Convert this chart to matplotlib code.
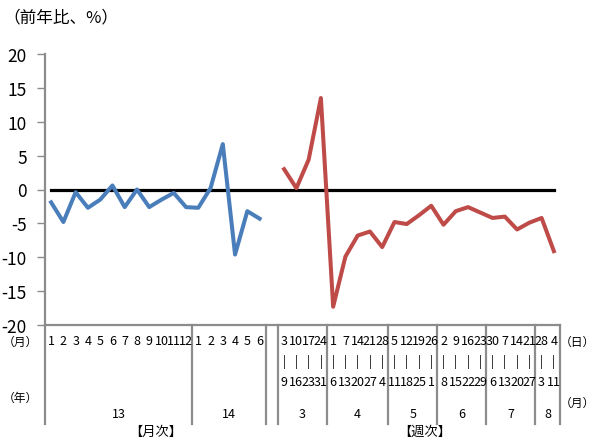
import matplotlib
matplotlib.use("Agg")
import matplotlib.pyplot as plt

plt.rcParams["font.family"] = ["Noto Sans CJK JP", "DejaVu Sans"]
plt.rcParams["axes.unicode_minus"] = False

# ── Data ──────────────────────────────────────────────────────────────────────
# Monthly (2013 Jan – 2014 Jun), year-on-year %
monthly_labels = ["1", "2", "3", "4", "5", "6", "7", "8", "9", "10", "11", "12",
                  "1", "2", "3", "4", "5", "6"]
monthly_values = [-1.9, -4.8, -0.4, -2.7, -1.5, 0.6, -2.6, 0.0, -2.6, -1.5, -0.5, -2.6,
                  -2.7, 0.2, 6.7, -9.6, -3.2, -4.3]
year_groups = [("13", 12), ("14", 6)]

# Weekly (2014 Mar – Aug): week start day / week end day
week_start = ["3", "10", "17", "24", "1", "7", "14", "21", "28", "5", "12", "19", "26",
              "2", "9", "16", "23", "30", "7", "14", "21", "28", "4"]
week_end = ["9", "16", "23", "31", "6", "13", "20", "27", "4", "11", "18", "25", "1",
            "8", "15", "22", "29", "6", "13", "20", "27", "3", "11"]
weekly_values = [3.0, 0.2, 4.4, 13.5, -17.3, -9.9, -6.8, -6.2, -8.5, -4.8, -5.1, -3.8,
                 -2.4, -5.2, -3.2, -2.6, -3.4, -4.2, -4.0, -5.9, -4.9, -4.2, -9.1]
month_groups = [("3", 4), ("4", 5), ("5", 4), ("6", 4), ("7", 4), ("8", 2)]

BLUE = "#4A7EBB"
RED = "#BE4B48"
AXIS = "#8C8C8C"

n_month = len(monthly_values)
gap = 1
n_total = n_month + gap + len(weekly_values)
x_month = list(range(n_month))
x_week = list(range(n_month + gap, n_total))

fig = plt.figure(figsize=(5.97, 4.39), dpi=100)
ax = fig.add_axes([45 / 597, 113 / 439, 515 / 597, 271 / 439])

ax.plot(range(n_total), [0] * n_total, color="black", linewidth=2.3, zorder=2)
ax.plot(x_month, monthly_values, color=BLUE, linewidth=2.9, zorder=3)
ax.plot(x_week, weekly_values, color=RED, linewidth=2.9, zorder=3)

ax.set_xlim(-0.5, n_total - 0.5)
ax.set_ylim(-20, 20)
ax.set_yticks(range(-20, 21, 5))
ax.tick_params(axis="y", labelsize=12.5, length=6, width=1, color=AXIS, pad=7)
ax.set_xticks([])
for side in ("top", "right"):
    ax.spines[side].set_visible(False)
for side in ("left", "bottom"):
    ax.spines[side].set_color(AXIS)
    ax.spines[side].set_linewidth(1.6)

xt = ax.get_xaxis_transform()
Y_TOP, Y_BAR, Y_BOT, Y_GRP, Y_SEP = -0.059, -0.133, -0.207, -0.325, -0.365
lab_kw = dict(transform=xt, ha="center", va="center", fontsize=9, clip_on=False)

# Category labels
for x, lab in zip(x_month, monthly_labels):
    ax.text(x, Y_TOP, lab, **lab_kw)
for x, s, e in zip(x_week, week_start, week_end):
    ax.text(x, Y_TOP, s, **lab_kw)
    ax.text(x, Y_BAR, "|", **lab_kw)
    ax.text(x, Y_BOT, e, **lab_kw)

# Group labels and separators
def sep(xb):
    ax.plot([xb, xb], [0, Y_SEP], transform=xt, color=AXIS, linewidth=1.6,
            clip_on=False, zorder=1)

start = 0
sep(-0.5)
for name, cnt in year_groups:
    ax.text(start + (cnt - 1) / 2, Y_GRP, name, **lab_kw)
    start += cnt
    sep(start - 0.5)
start += gap
sep(start - 0.5)
for name, cnt in month_groups:
    ax.text(start + (cnt - 1) / 2, Y_GRP, name, **lab_kw)
    start += cnt
    sep(start - 0.5)

side_kw = dict(fontsize=8.5, va="center")
fig.text(3 / 597, 1 - 342 / 439, "（月）", ha="left", **side_kw)
fig.text(3 / 597, 1 - 398 / 439, "（年）", ha="left", **side_kw)
fig.text(560 / 597, 1 - 342 / 439, "（日）", ha="left", **side_kw)
fig.text(560 / 597, 1 - 403 / 439, "（月）", ha="left", **side_kw)
ax.text(8.5, -0.391, "【月次】", transform=xt, ha="center", va="center",
        fontsize=9.5, clip_on=False)
ax.text(30.5, -0.391, "【週次】", transform=xt, ha="center", va="center",
        fontsize=9.5, clip_on=False)

fig.text(3 / 597, 1 - 18 / 439, "（前年比、%）", ha="left", va="center", fontsize=12)

fig.savefig("out.png", dpi=100)
